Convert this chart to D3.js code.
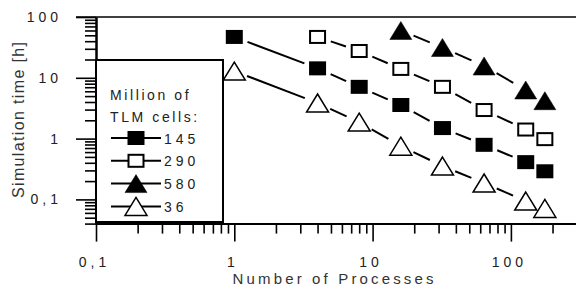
<!DOCTYPE html>
<html>
<head>
<meta charset="utf-8" />
<style>
body {
	margin: 0;
	background: #fff;
	font-family: "Liberation Sans", Arial, sans-serif;
}
svg {
	display: block;
}
.axis text {
	font-size: 14px;
	letter-spacing: 4px;
	fill: #222;
}
.axis line, .axis path {
	stroke: #000;
}
.axis path {
	stroke-width: 2px;
}
.axis line {
	stroke-width: 1.6px;
}
.title {
	fill: #333;
}
.legend-text {
	font-size: 14px;
	letter-spacing: 2.6px;
	fill: #222;
}
.legend-num {
	font-size: 14px;
	letter-spacing: 4px;
	fill: #222;
}
</style>
</head>
<body>
<script src="https://cdn.jsdelivr.net/npm/d3@7"></script>
<script>
// million of TLM cells, number of processes, simulation time [h]
var cells = ["145", "290", "580", "36"];
var procs145 = [1, 4, 8, 16, 32, 64, 128, 176],
    time145 = [47, 14.3, 7.1, 3.57, 1.49, 0.79, 0.41, 0.29];
var procs290 = [4, 8, 16, 32, 64, 128, 176],
    time290 = [47, 27.6, 14, 7.1, 2.95, 1.41, 0.98];
var procs580 = [16, 32, 64, 128, 176],
    time580 = [60, 31.5, 15.6, 6.3, 4.2];
var procs36 = [1, 4, 8, 16, 32, 64, 128, 176],
    time36 = [12.9, 3.85, 1.87, 0.75, 0.354, 0.186, 0.094, 0.071];

var xMajor = [0.1, 1, 10, 100],
    xMajorLabels = ["0,1", "1", "10", "100"];
var yMajor = [0.1, 1, 10, 100],
    yMajorLabels = ["0,1", "1", "10", "100"];
var xMinor = [0.2, 0.3, 0.4, 0.5, 0.6, 0.7, 0.8, 0.9, 2, 3, 4, 5, 6, 7, 8, 9,
    20, 30, 40, 50, 60, 70, 80, 90, 200];
var yMinor = [0.04, 0.05, 0.06, 0.07, 0.08, 0.09, 0.2, 0.3, 0.4, 0.5, 0.6, 0.7, 0.8, 0.9,
    2, 3, 4, 5, 6, 7, 8, 9, 20, 30, 40, 50, 60, 70, 80, 90];

var series = [
	{name: cells[0], procs: procs145, time: time145, shape: "square", filled: true},
	{name: cells[1], procs: procs290, time: time290, shape: "square", filled: false},
	{name: cells[2], procs: procs580, time: time580, shape: "triangle", filled: true},
	{name: cells[3], procs: procs36, time: time36, shape: "triangle", filled: false}
];

var width = 576, height = 292;
var plotLeft = 96, plotTop = 17,
    xDecade = 138.3, yDecade = 60.8;

var x = d3.scaleLog()
	.domain([0.1, 300])
	.range([plotLeft, plotLeft + Math.log10(3000) * xDecade]);

var y = d3.scaleLog()
	.domain([100, 0.04])
	.range([plotTop, plotTop + Math.log10(2500) * yDecade]);

var svg = d3.select("body").append("svg")
	.attr("width", width)
	.attr("height", height);

// top frame line
svg.append("line")
	.attr("x1", plotLeft - 20)
	.attr("x2", width)
	.attr("y1", y(100))
	.attr("y2", y(100))
	.attr("stroke", "#000")
	.attr("stroke-width", 1.6);

// y axis
svg.append("g")
	.attr("class", "axis")
	.attr("transform", "translate(" + plotLeft + ",0)")
	.call(d3.axisLeft(y).tickValues(yMinor).tickSize(11).tickSizeOuter(0).tickFormat(""));

var yAxis = svg.append("g")
	.attr("class", "axis")
	.attr("transform", "translate(" + plotLeft + ",0)")
	.call(d3.axisLeft(y).tickValues(yMajor).tickSize(20).tickSizeOuter(0)
		.tickFormat(function(d, i) { return yMajorLabels[i]; }));
yAxis.selectAll("text").attr("x", -34);

// x axis
var xBase = y(0.04);
svg.append("g")
	.attr("class", "axis")
	.attr("transform", "translate(0," + xBase + ")")
	.call(d3.axisBottom(x).tickValues(xMinor).tickSize(10).tickSizeOuter(0).tickFormat(""));

var xAxis = svg.append("g")
	.attr("class", "axis")
	.attr("transform", "translate(0," + xBase + ")")
	.call(d3.axisBottom(x).tickValues(xMajor).tickSize(18).tickSizeOuter(0)
		.tickFormat(function(d, i) { return xMajorLabels[i]; }));
xAxis.selectAll("text").attr("y", 43).attr("dy", 0).attr("dx", -2);

// axis titles
svg.append("text")
	.attr("class", "title")
	.attr("transform", "translate(24,120) rotate(-90)")
	.attr("text-anchor", "middle")
	.attr("font-size", 16)
	.attr("textLength", 156)
	.attr("lengthAdjust", "spacing")
	.text("Simulation time [h]");

svg.append("text")
	.attr("class", "title")
	.attr("x", 333)
	.attr("y", 284)
	.attr("text-anchor", "middle")
	.attr("font-size", 15)
	.attr("textLength", 201)
	.attr("lengthAdjust", "spacing")
	.text("Number of Processes");

// marker helpers
var sq = {hw: 8.5, hh: 7}, tri = {hw: 11, hh: 9};

function drawMarker(g, s, cx, cy) {
	if (s.shape === "square") {
		if (s.filled) {
			g.append("rect")
				.attr("x", cx - sq.hw).attr("y", cy - sq.hh)
				.attr("width", sq.hw * 2).attr("height", sq.hh * 2)
				.attr("fill", "#000");
		} else {
			g.append("rect")
				.attr("x", cx - sq.hw + 1).attr("y", cy - sq.hh + 1)
				.attr("width", sq.hw * 2 - 2).attr("height", sq.hh * 2 - 2)
				.attr("fill", "#fff")
				.attr("stroke", "#000")
				.attr("stroke-width", 2);
		}
	} else {
		var p = d3.path();
		p.moveTo(cx, cy - tri.hh);
		p.lineTo(cx + tri.hw, cy + tri.hh);
		p.lineTo(cx - tri.hw, cy + tri.hh);
		p.closePath();
		g.append("path")
			.attr("d", p.toString())
			.attr("fill", s.filled ? "#000" : "#fff")
			.attr("stroke", "#000")
			.attr("stroke-width", s.filled ? 0.5 : 1.5);
	}
}

function trimDist(s, ux, uy) {
	var hw = s.shape === "square" ? sq.hw : 9,
	    hh = s.shape === "square" ? sq.hh : 9,
	    gap = s.shape === "square" ? 5 : 4;
	var a = ux ? hw / Math.abs(ux) : Infinity,
	    b = uy ? hh / Math.abs(uy) : Infinity;
	return Math.min(a, b) + gap;
}

// series
var plot = svg.append("g");
series.forEach(function(s) {
	var g = plot.append("g");
	for (var i = 0; i < s.procs.length - 1; i++) {
		var x0 = x(s.procs[i]), y0 = y(s.time[i]),
		    x1 = x(s.procs[i + 1]), y1 = y(s.time[i + 1]);
		var dx = x1 - x0, dy = y1 - y0, len = Math.sqrt(dx * dx + dy * dy);
		var ux = dx / len, uy = dy / len;
		var t = trimDist(s, ux, uy);
		if (len > 2 * t) {
			g.append("line")
				.attr("x1", x0 + ux * t).attr("y1", y0 + uy * t)
				.attr("x2", x1 - ux * t).attr("y2", y1 - uy * t)
				.attr("stroke", "#000")
				.attr("stroke-width", 2);
		}
	}
	s.procs.forEach(function(p, i) {
		drawMarker(g, s, x(p), y(s.time[i]));
	});
});

// legend
var legend = svg.append("g");
legend.append("rect")
	.attr("x", 96).attr("y", 60)
	.attr("width", 127).attr("height", 162)
	.attr("fill", "#fff")
	.attr("stroke", "#000")
	.attr("stroke-width", 2);

legend.append("text")
	.attr("class", "legend-text")
	.attr("x", 110).attr("y", 100)
	.text("Million of");
legend.append("text")
	.attr("class", "legend-text")
	.attr("x", 110).attr("y", 122)
	.text("TLM cells:");

series.forEach(function(s, i) {
	var ry = 138 + i * 22.8;
	var g = legend.append("g");
	g.append("line")
		.attr("x1", 111).attr("x2", 161)
		.attr("y1", ry).attr("y2", ry)
		.attr("stroke", "#000")
		.attr("stroke-width", 2);
	drawMarker(g, s, 136, ry);
	g.append("text")
		.attr("class", "legend-num")
		.attr("x", 164).attr("y", ry + 5.5)
		.text(s.name);
});
</script>
</body>
</html>
